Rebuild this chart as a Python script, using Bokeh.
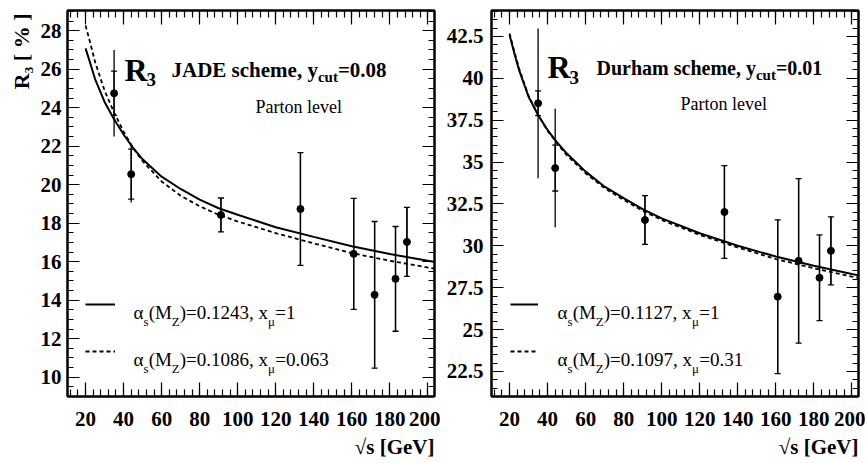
import numpy as np
from bokeh.plotting import figure
from bokeh.models import (ColumnDataSource, Whisker, TeeHead, Label, LinearAxis,
                          SingleIntervalTicker, Legend, LegendItem, Title,
                          CustomJSTickFormatter, Range1d)
from bokeh.layouts import row
from bokeh.embed import file_html
from bokeh.resources import INLINE

# ---------------- data ----------------
energies = [35.0, 44.0, 91.2, 133.0, 161.0, 172.0, 183.0, 189.0]

jade_r3 = [24.75, 20.55, 18.43, 18.74, 16.41, 14.28, 15.11, 17.03]
jade_stat = [1.15, 1.30, 0.88, 2.93, 2.88, 3.81, 2.72, 1.79]
jade_tot = [2.25, 1.47, 0.88, 2.93, 2.88, 3.81, 2.72, 1.79]

durham_r3 = [38.51, 34.64, 31.54, 32.02, 26.96, 29.10, 28.09, 29.70]
durham_stat = [0.74, 1.37, 1.46, 2.77, 4.59, 4.91, 2.56, 2.03]
durham_tot = [4.47, 3.54, 1.46, 2.77, 4.59, 4.91, 2.56, 2.03]

curve_x = [20, 22.5, 25, 30, 35, 40, 45, 50, 60, 70, 80, 90, 100, 120, 140, 160, 180, 200, 205]
jade_solid = [27.08, 26.30, 25.49, 24.30, 23.40, 22.61, 21.91, 21.32, 20.42, 19.78, 19.23,
              18.78, 18.44, 17.79, 17.29, 16.80, 16.40, 16.05, 15.97]
jade_dashed = [28.27, 27.35, 26.38, 24.89, 23.75, 22.76, 21.91, 21.22, 20.17, 19.43, 18.88,
               18.44, 18.09, 17.49, 16.95, 16.45, 16.05, 15.70, 15.62]
durham_solid = [42.58, 41.50, 40.49, 38.90, 37.81, 36.91, 36.17, 35.52, 34.43, 33.53, 32.84,
                32.19, 31.64, 30.75, 30.00, 29.36, 28.81, 28.31, 28.20]
durham_dashed = [42.68, 41.60, 40.59, 38.95, 37.81, 36.86, 36.12, 35.42, 34.33, 33.44, 32.74,
                 32.09, 31.54, 30.65, 29.90, 29.21, 28.66, 28.16, 28.05]

legend_jade = [("0.1243", "1"), ("0.1086", "0.063")]
legend_durham = [("0.1127", "1"), ("0.1097", "0.31")]

x_tick_step = 20
jade_tick_step = 2
durham_tick_step = 2.5

x_title = "√s [GeV]"
y_title = "R₃ [ % ]"

# ---------------- layout constants ----------------
SERIF = "Liberation Serif"
X_RANGE = (10.5, 203.5)
Y_JADE = (9.0, 29.05)
Y_DURHAM = (21.0, 44.05)
FRAME_W, FRAME_H, FRAME_TOP = 367, 387, 10
CANVAS_H = 463

W_REG = {' ': 250, '(': 333, ')': 333, '=': 564, ',': 250, '.': 250, 'M': 889, 'Z': 611,
         's': 389, 'x': 500, 'α': 530, 'μ': 560, 'P': 556, 'a': 444, 'r': 333, 't': 278,
         'o': 500, 'n': 500, 'l': 278, 'e': 444, 'v': 500, '[': 333, ']': 333, '%': 833}
W_BOLD = {' ': 250, 'R': 722, 'J': 500, 'A': 722, 'D': 722, 'E': 667, 's': 389, 'c': 444,
          'h': 556, 'e': 444, 'm': 833, ',': 250, 'y': 500, 'u': 556, 't': 333, '=': 570,
          '.': 250, 'r': 444, 'a': 500}


def text_width(s, size, bold):
    tab = W_BOLD if bold else W_REG
    return sum(tab.get(c, 500) for c in s) * size / 1000.0


def make_map(frame_left, yr):
    def m(px, py):
        x = X_RANGE[0] + (px - frame_left) * (X_RANGE[1] - X_RANGE[0]) / FRAME_W
        y = yr[1] - (py - FRAME_TOP) * (yr[1] - yr[0]) / FRAME_H
        return x, y
    return m


def label(p, m, px, py, text, size, bold=False, align="left"):
    x, y = m(px, py)
    p.add_layout(Label(x=x, y=y, text=text, text_font=SERIF,
                       text_font_size=f"{size}px",
                       text_font_style="bold" if bold else "normal",
                       text_color="black", text_align=align,
                       text_baseline="alphabetic"))


def runs(p, m, px, py, items):
    x = px
    for text, size, bold, dy in items:
        label(p, m, x, py + dy, text, size, bold)
        x += text_width(text, size, bold)


def style_axis(ax, ticker, major_in, minor_in, show, standoff=0):
    ax.ticker = ticker
    ax.major_tick_in = major_in
    ax.major_tick_out = 0
    ax.minor_tick_in = minor_in
    ax.minor_tick_out = 0
    ax.axis_line_width = 2
    ax.axis_line_color = "black"
    ax.major_tick_line_color = "black"
    ax.minor_tick_line_color = "black"
    ax.major_tick_line_width = 1.2
    ax.minor_tick_line_width = 1.2
    ax.axis_label = None
    if show:
        ax.major_label_text_font = SERIF
        ax.major_label_text_font_style = "bold"
        ax.major_label_text_font_size = "21px"
        ax.major_label_text_color = "black"
        ax.major_label_standoff = standoff
    else:
        ax.major_label_text_font_size = "1px"
        ax.major_label_text_color = None
        ax.major_label_standoff = 0


def panel(yr, y_step, y_minor, border_left, border_right, r3, stat, tot, solid, dashed,
          legend_dx, glyph_w, y_standoff):
    p = figure(width=border_left + FRAME_W + border_right, height=CANVAS_H,
               x_range=Range1d(*X_RANGE), y_range=Range1d(*yr),
               output_backend="svg", toolbar_location=None,
               min_border_left=border_left, min_border_right=border_right,
               min_border_top=FRAME_TOP, min_border_bottom=CANVAS_H - FRAME_TOP - FRAME_H)
    p.xgrid.visible = False
    p.ygrid.visible = False
    p.outline_line_color = "black"
    p.outline_line_width = 2
    p.background_fill_color = "white"
    p.border_fill_color = "white"

    fmt = CustomJSTickFormatter(code="return String(Math.round(tick*10)/10);")
    style_axis(p.xaxis[0], SingleIntervalTicker(interval=x_tick_step, num_minor_ticks=5),
               14, 7, True, 15)
    style_axis(p.yaxis[0], SingleIntervalTicker(interval=y_step, num_minor_ticks=y_minor),
               12, 6, True, y_standoff)
    p.yaxis[0].formatter = fmt
    top = LinearAxis()
    right = LinearAxis()
    style_axis(top, SingleIntervalTicker(interval=x_tick_step, num_minor_ticks=5), 14, 7, False)
    style_axis(right, SingleIntervalTicker(interval=y_step, num_minor_ticks=y_minor), 12, 6, False)
    p.add_layout(top, "above")
    p.add_layout(right, "right")

    r_solid = p.line(curve_x, solid, line_color="black", line_width=2)
    r_dash = p.line(curve_x, dashed, line_color="black", line_width=1.8, line_dash="4 3")

    e = np.array(energies)
    v = np.array(r3)
    s = np.array(stat)
    t = np.array(tot)
    p.segment(x0=e, y0=v - t, x1=e, y1=v + t, line_color="black", line_width=1.3)
    src = ColumnDataSource(dict(base=e, lower=v - s, upper=v + s))
    p.add_layout(Whisker(base="base", lower="lower", upper="upper", source=src,
                         dimension="height", line_color="black", line_width=1.3,
                         upper_head=TeeHead(size=6, line_width=1.3, line_color="black"),
                         lower_head=TeeHead(size=6, line_width=1.3, line_color="black")))
    p.scatter(e, v, size=7, color="black")

    leg = Legend(items=[LegendItem(label=" ", renderers=[r_solid]),
                        LegendItem(label=" ", renderers=[r_dash])],
                 location=(legend_dx, 35), glyph_width=glyph_w, glyph_height=20,
                 label_height=20, label_width=1, spacing=27, padding=0, margin=0,
                 border_line_alpha=0, background_fill_alpha=0,
                 label_text_font_size="8px", label_text_color=None, label_standoff=0)
    p.add_layout(leg)

    xt = Title(text=x_title, align="right", text_font=SERIF, text_font_size="21px",
               text_font_style="bold", text_color="black", offset=0, standoff=9)
    p.add_layout(xt, "below")
    return p


p1 = panel(Y_JADE, jade_tick_step, 4, 67, 6, jade_r3, jade_stat, jade_tot,
           jade_solid, jade_dashed, 18, 30, 6)
p2 = panel(Y_DURHAM, durham_tick_step, 5, 51, 7, durham_r3, durham_stat, durham_tot,
           durham_solid, durham_dashed, 19, 28, 8)

yt = Title(text=y_title, align="right", text_font=SERIF, text_font_size="22px",
           text_font_style="bold", text_color="black", offset=3, standoff=8)
p1.add_layout(yt, "left")

m1 = make_map(67, Y_JADE)
m2 = make_map(491, Y_DURHAM)

# titles
label(p1, m1, 124, 70, "R", 32, True)
label(p1, m1, 146, 79, "3", 19, True)
runs(p1, m1, 171, 70, [("JADE scheme, y", 21, True, 0), ("cut", 15, True, 7), ("=0.08", 21, True, 0)])
label(p1, m1, 255, 107, "Parton level", 18)

label(p2, m2, 547, 67, "R", 32, True)
label(p2, m2, 569, 77, "3", 19, True)
runs(p2, m2, 596, 68, [("Durham scheme, y", 20, True, 0), ("cut", 15, True, 7), ("=0.01", 20, True, 0)])
label(p2, m2, 680, 104, "Parton level", 18)

# legend texts
for (p, m, x0, vals) in [(p1, m1, 133, legend_jade), (p2, m2, 557, legend_durham)]:
    for i, (a, xm) in enumerate(vals):
        y0 = 313 + 47 * i
        runs(p, m, x0, y0, [("α", 19, False, 0), ("s", 13, False, 9), ("(M", 19, False, 0),
                            ("Z", 13, False, 9), (")=" + a + ", x", 19, False, 0),
                            ("μ", 13, False, 9), ("=" + xm, 19, False, 0)])

layout = row(p1, p2)
open("out.html", "w").write(file_html(layout, INLINE))
